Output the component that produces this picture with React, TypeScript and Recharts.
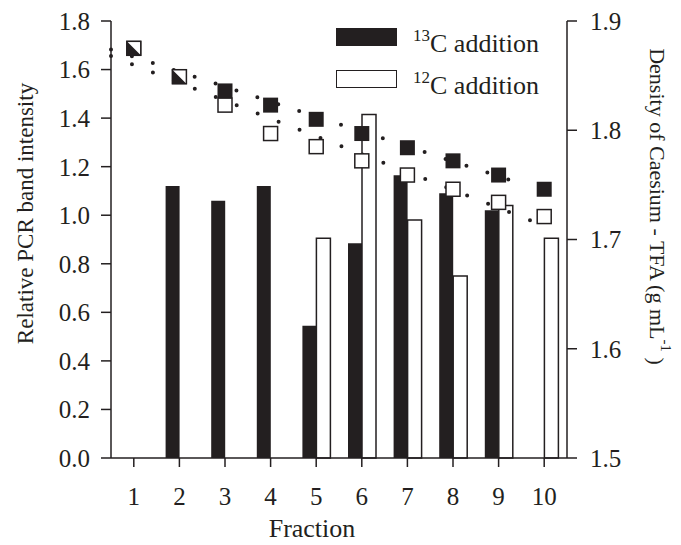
import React from 'react';
import {
  Bar,
  ComposedChart,
  Legend,
  ReferenceLine,
  Scatter,
  XAxis,
  YAxis,
} from 'recharts';

const INK = '#231f20';
const FONT = 'Liberation Serif';

const fractions = [1, 2, 3, 4, 5, 6, 7, 8, 9, 10];
const pcr13C = [null, 1.12, 1.06, 1.12, 0.545, 0.885, 1.165, 1.09, 1.02, null];
const pcr12C = [null, null, null, null, 0.905, 1.415, 0.98, 0.75, 1.04, 0.905];
const density13C = [1.875, 1.849, 1.836, 1.823, 1.81, 1.797, 1.784, 1.772, 1.759, 1.746];
const density12C = [1.875, 1.849, 1.823, 1.797, 1.785, 1.772, 1.759, 1.746, 1.734, 1.721];

// dotted fit lines (start / end)
const fitX13C = [0.5, 9.65];
const fit13C = [1.874, 1.749];
const fitX12C = [0.5, 10.1];
const fit12C = [1.868, 1.711];

const pcrTicks = [0, 0.2, 0.4, 0.6, 0.8, 1.0, 1.2, 1.4, 1.6, 1.8];
const densityTicks = [1.5, 1.6, 1.7, 1.8, 1.9];

const legendItems = [
  { iso: '13', label: 'C addition', fill: INK },
  { iso: '12', label: 'C addition', fill: '#fff' },
];

const barData = fractions.map((f, i) => ({ x: f, c13: pcr13C[i], c12: pcr12C[i] }));
const marks13C = fractions.map((f, i) => ({ x: f, y: density13C[i], i }));
const marks12C = fractions.map((f, i) => ({ x: f, y: density12C[i], i }));

const tickStyle = { fill: INK, fontSize: 25, fontFamily: FONT, style: { fontFamily: FONT } };
const axisLine = { stroke: INK, strokeWidth: 1.5 };

const FilledSquare = (props: any) => {
  const { cx, cy } = props;
  return <rect x={cx - 7.5} y={cy - 7.5} width={15} height={15} fill={INK} />;
};

const OpenSquare = (props: any) => {
  const { cx, cy, payload } = props;
  const same = density12C[payload.i] === density13C[payload.i];
  return (
    <g>
      <rect x={cx - 7} y={cy - 7} width={14} height={14} fill="#fff" stroke={INK} strokeWidth={1.5} />
      {same && (
        <polygon
          points={`${cx - 7},${cy - 7} ${cx + 7},${cy + 7} ${cx - 7},${cy + 7}`}
          fill={INK}
        />
      )}
    </g>
  );
};

const LegendBox = () => (
  <div style={{ fontFamily: FONT, color: INK }}>
    {legendItems.map((item) => (
      <div key={item.iso} style={{ position: 'relative', height: 42 }}>
        <div
          style={{
            position: 'absolute',
            left: 0,
            top: 0,
            width: 59,
            height: 16,
            background: item.fill,
            border: `1.5px solid ${INK}`,
          }}
        />
        <div
          style={{
            position: 'absolute',
            left: 77,
            top: 3,
            fontSize: 26,
            lineHeight: 1,
            whiteSpace: 'nowrap',
          }}
        >
          <span style={{ fontSize: 17, position: 'relative', top: -11 }}>{item.iso}</span>
          {item.label}
        </div>
      </div>
    ))}
  </div>
);

const LeftLabel = ({ viewBox }: any) => (
  <text
    transform={`translate(${viewBox.x + 25}, ${viewBox.y + viewBox.height / 2 - 26}) rotate(-90)`}
    textAnchor="middle"
    dominantBaseline="central"
    fill={INK}
    fontSize={23}
    fontFamily={FONT}
    style={{ fontFamily: FONT }}
  >
    Relative PCR band intensity
  </text>
);

const RightLabel = ({ viewBox }: any) => (
  <text
    transform={`translate(${viewBox.x + 90}, ${viewBox.y + viewBox.height / 2 - 33}) rotate(90)`}
    textAnchor="middle"
    dominantBaseline="central"
    fill={INK}
    fontSize={22}
    fontFamily={FONT}
    style={{ fontFamily: FONT }}
  >
    Density of Caesium - TFA (g mL
    <tspan fontSize={15} dy={-9}>-1</tspan>
    <tspan dy={9}> )</tspan>
  </text>
);

const BottomLabel = ({ viewBox }: any) => (
  <text
    x={viewBox.x + viewBox.width / 2 - 27}
    y={viewBox.y + viewBox.height - 8}
    textAnchor="middle"
    fill={INK}
    fontSize={26}
    fontFamily={FONT}
    style={{ fontFamily: FONT }}
  >
    Fraction
  </text>
);

export default function App() {
  return (
    <div
      style={{
        position: 'absolute',
        left: 0,
        top: 0,
        width: 681,
        height: 545,
        background: '#fff',
        fontFamily: FONT,
      }}
    >
      <ComposedChart
        width={681}
        height={545}
        data={barData}
        margin={{ top: 21, right: 0, bottom: 0, left: 0 }}
        barGap={0}
        style={{ fontFamily: FONT }}
      >
        <XAxis
          dataKey="x"
          type="number"
          domain={[0.5, 10.5]}
          ticks={fractions}
          allowDataOverflow
          height={87}
          tickSize={9}
          tickMargin={20}
          tick={tickStyle}
          axisLine={axisLine}
          tickLine={axisLine}
          label={<BottomLabel />}
        />
        <XAxis xAxisId="fit" dataKey="x" type="number" domain={[0.5, 10.5]} allowDataOverflow hide />
        <YAxis
          yAxisId="pcr"
          domain={[0, 1.8]}
          ticks={pcrTicks}
          width={111}
          tickSize={10}
          tickMargin={11}
          tick={tickStyle}
          tickFormatter={(v) => v.toFixed(1)}
          axisLine={axisLine}
          tickLine={axisLine}
          label={<LeftLabel />}
        />
        <YAxis
          yAxisId="density"
          orientation="right"
          domain={[1.5, 1.9]}
          ticks={densityTicks}
          allowDataOverflow
          width={114}
          tickSize={10}
          tickMargin={13}
          tick={tickStyle}
          tickFormatter={(v) => v.toFixed(1)}
          axisLine={axisLine}
          tickLine={axisLine}
          label={<RightLabel />}
        />
        <Legend
          layout="horizontal"
          verticalAlign="middle"
          align="center"
          wrapperStyle={{ left: 336, top: 28, width: 260, height: 84 }}
          content={() => <LegendBox />}
        />
        <Bar yAxisId="pcr" dataKey="c13" barSize={14} fill={INK} isAnimationActive={false} />
        <Bar
          yAxisId="pcr"
          dataKey="c12"
          barSize={14}
          fill="#fff"
          stroke={INK}
          strokeWidth={1.5}
          isAnimationActive={false}
        />
        <ReferenceLine
          xAxisId="fit"
          yAxisId="density"
          segment={[
            { x: fitX13C[0], y: fit13C[0] },
            { x: fitX13C[1], y: fit13C[1] },
          ]}
          stroke={INK}
          strokeWidth={4}
          strokeDasharray="0 22"
          strokeLinecap="round"
        />
        <ReferenceLine
          xAxisId="fit"
          yAxisId="density"
          segment={[
            { x: fitX12C[0], y: fit12C[0] },
            { x: fitX12C[1], y: fit12C[1] },
          ]}
          stroke={INK}
          strokeWidth={4}
          strokeDasharray="0 22.5"
          strokeLinecap="round"
        />
        <Scatter
          xAxisId="fit"
          yAxisId="density"
          data={marks13C}
          dataKey="y"
          shape={FilledSquare}
          isAnimationActive={false}
        />
        <Scatter
          xAxisId="fit"
          yAxisId="density"
          data={marks12C}
          dataKey="y"
          shape={OpenSquare}
          isAnimationActive={false}
        />
      </ComposedChart>
    </div>
  );
}
